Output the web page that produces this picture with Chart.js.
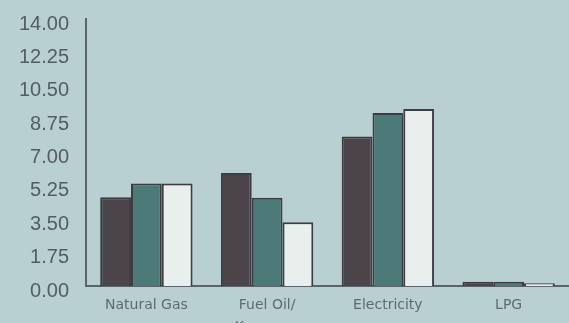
<!DOCTYPE html>
<html>
<head>
<meta charset="utf-8">
<script src="https://cdn.jsdelivr.net/npm/chart.js@4/dist/chart.umd.min.js"></script>
<style>
  html, body { margin: 0; padding: 0; background: #b9d0d2; overflow: hidden; }
  #wrap { width: 569px; height: 323px; position: relative; }
</style>
</head>
<body>
<div id="wrap"><canvas id="fuel-chart"></canvas></div>
<script>
const categories = ["Natural Gas", ["Fuel Oil/", "Kerosene"], "Electricity", "LPG"];
const seriesA = [4.65, 5.92, 7.84, 0.22];
const seriesB = [5.38, 4.63, 9.07, 0.22];
const seriesC = [5.38, 3.34, 9.28, 0.15];
const yTicks = [0, 1.75, 3.5, 5.25, 7, 8.75, 10.5, 12.25, 14];

const outline = "#3e3c40";
const axisColor = "#59636a";
const textColor = "#525d63";

function barSet(values, fill) {
  return {
    data: values,
    backgroundColor: fill,
    borderColor: outline,
    borderWidth: 2,
    borderSkipped: "bottom",
    barPercentage: 1,
    categoryPercentage: 0.765,
  };
}

new Chart(document.getElementById("fuel-chart").getContext("2d"), {
  type: "bar",
  data: {
    labels: categories,
    datasets: [
      barSet(seriesA, "#4b4549"),
      barSet(seriesB, "#4c7a78"),
      barSet(seriesC, "#e9efed"),
    ],
  },
  options: {
    responsive: true,
    maintainAspectRatio: false,
    animation: false,
    layout: { padding: { top: 10, right: 0, left: 0, bottom: 0 } },
    plugins: {
      legend: { display: false },
      tooltip: { enabled: false },
    },
    scales: {
      x: {
        grid: { display: false, drawTicks: false },
        border: { display: true, color: axisColor, width: 2 },
        ticks: {
          color: "#5f6a6f",
          padding: 8,
          maxRotation: 0,
          autoSkip: false,
          font: { family: "DejaVu Sans", size: 14, lineHeight: 1.57 },
        },
        afterFit: (scale) => { scale.height = 37; },
      },
      y: {
        min: 0,
        max: 14,
        afterBuildTicks: (scale) => { scale.ticks = yTicks.map((v) => ({ value: v })); },
        grid: { display: false, drawTicks: false },
        border: { display: true, color: axisColor, width: 2 },
        ticks: {
          color: textColor,
          padding: 17,
          labelOffset: 5,
          callback: (value) => Number(value).toFixed(2),
          font: { family: "Liberation Sans", size: 20, lineHeight: 0.2 },
        },
        afterFit: (scale) => { scale.width = 86; },
      },
    },
  },
});
</script>
</body>
</html>
